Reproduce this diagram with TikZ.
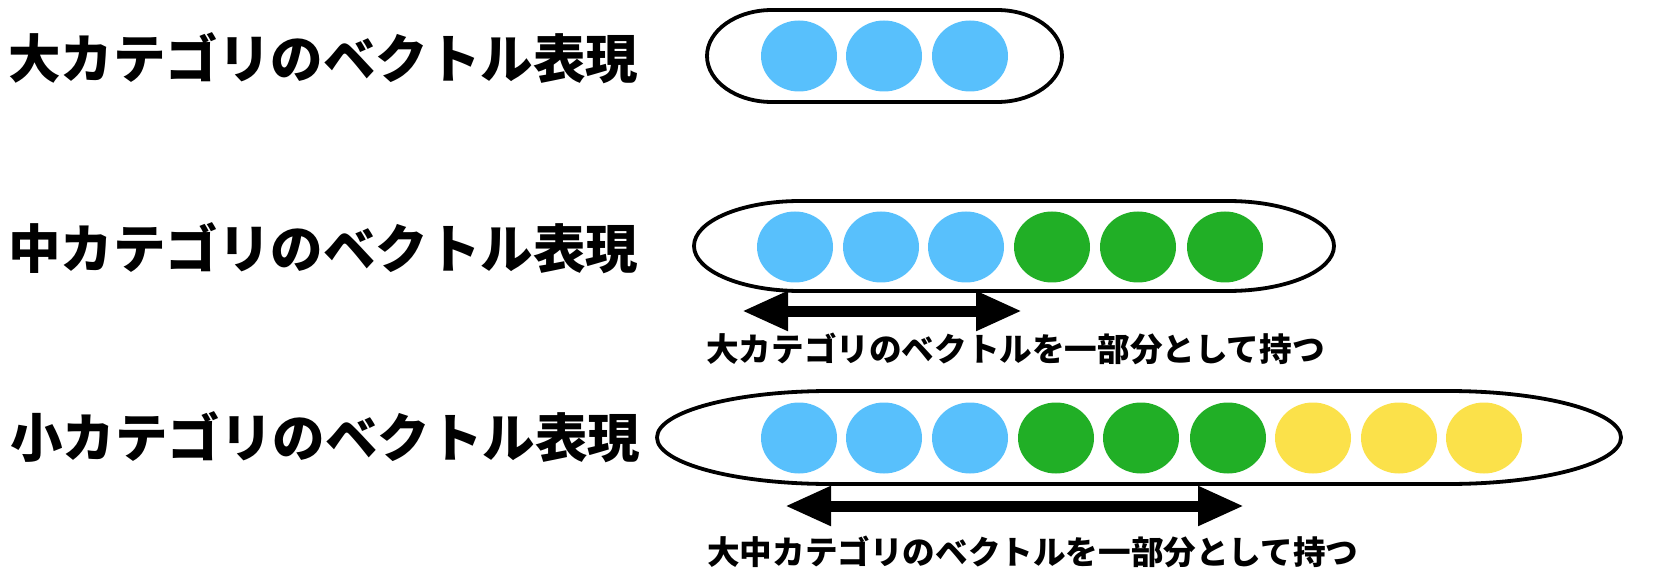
\documentclass[tikz,border=0pt]{standalone}
\usepackage{fontspec}
\usetikzlibrary{arrows.meta,shapes.geometric}
\newfontfamily\jp{Noto Sans CJK JP}
\definecolor{cblue}{RGB}{88,192,252}
\definecolor{cgreen}{RGB}{33,175,38}
\definecolor{cyellow}{RGB}{251,225,74}
\begin{document}
\begin{tikzpicture}[x=1pt,y=-1pt,
  title/.style={anchor=west,inner sep=0pt,font=\jp\bfseries\fontsize{52.5}{52.5}\selectfont},
  note/.style={anchor=west,inner sep=0pt,font=\jp\bfseries\fontsize{32.6}{32.6}\selectfont},
  dot/.style={ellipse,minimum width=76pt,minimum height=71pt,inner sep=0pt},
  outer/.style={line width=3.8pt},
  bigarrow/.style={line width=11pt,{Triangle[length=46pt,width=37pt]}-{Triangle[length=46pt,width=37pt]}}]
\useasboundingbox (0,0) rectangle (1674,588);
% titles
\node[title] (t1) at (8,58) {大カテゴリのベクトル表現};
\node[title] (t2) at (8,248) {中カテゴリのベクトル表現};
\node[title] (t3) at (10,437) {小カテゴリのベクトル表現};
% containers
\draw[outer] (772,10) -- (997,10) arc[start angle=-90,end angle=90,x radius=65,y radius=46]
  -- (772,102) arc[start angle=90,end angle=270,x radius=65,y radius=46] -- cycle;
\draw[outer] (800,201) -- (1228,201) arc[start angle=-90,end angle=90,x radius=106,y radius=45]
  -- (800,291) arc[start angle=90,end angle=270,x radius=106,y radius=45] -- cycle;
\draw[outer] (830,391) -- (1448,391) arc[start angle=-90,end angle=90,x radius=173,y radius=46.5]
  -- (830,484) arc[start angle=90,end angle=270,x radius=173,y radius=46.5] -- cycle;
% row 1
\foreach \i/\x in {1/799,2/884,3/970}
  \node[dot,fill=cblue] (a\i) at (\x,56) {};
% row 2
\foreach \i/\x/\c in {1/795/cblue,2/881/cblue,3/966/cblue,4/1052/cgreen,5/1138/cgreen,6/1225/cgreen}
  \node[dot,fill=\c] (b\i) at (\x,247) {};
% row 3
\foreach \i/\x/\c in {1/799/cblue,2/884/cblue,3/970/cblue,4/1056/cgreen,5/1141/cgreen,6/1228/cgreen,7/1313/cyellow,8/1399/cyellow,9/1484/cyellow}
  \node[dot,fill=\c] (c\i) at (\x,438) {};
% arrows
\coordinate (p1) at (742,311);
\coordinate (p2) at (1022,311);
\draw[bigarrow] (p1) -- (p2);
\node[note] (n1) at (706,349) {大カテゴリのベクトルを一部分として持つ};
\coordinate (q1) at (785,506);
\coordinate (q2) at (1244,506);
\draw[bigarrow] (q1) -- (q2);
\node[note] (n2) at (707,552) {大中カテゴリのベクトルを一部分として持つ};
\end{tikzpicture}
\end{document}
